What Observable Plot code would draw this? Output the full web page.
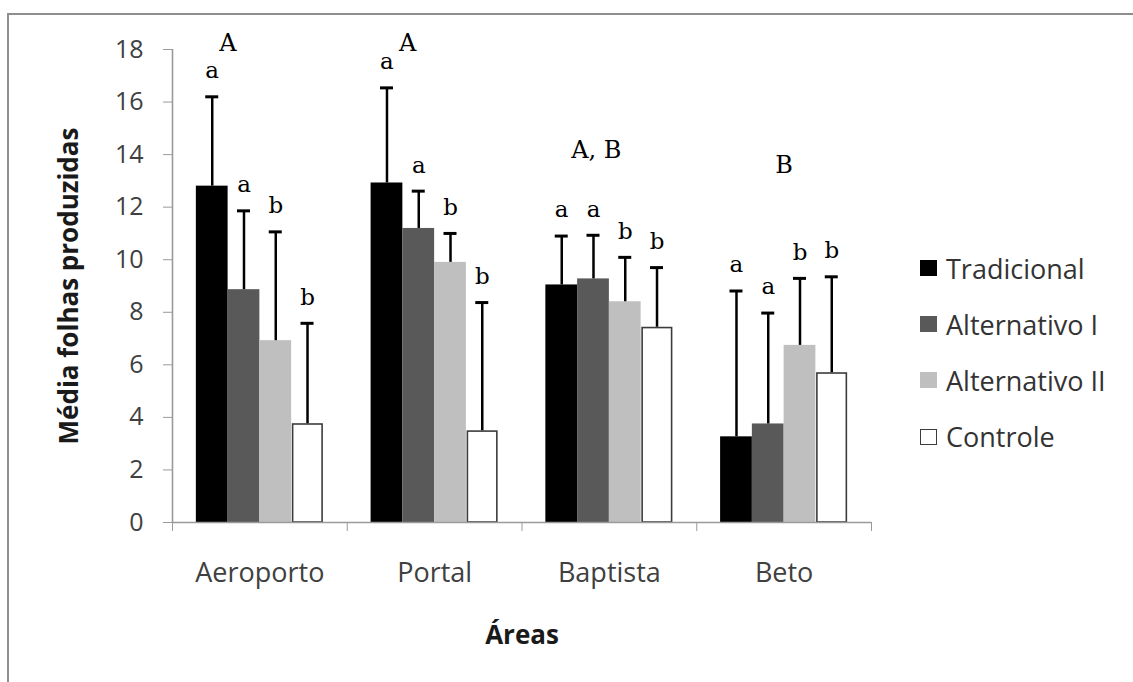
<!DOCTYPE html>
<html><head><meta charset="utf-8">
<script src="https://cdn.jsdelivr.net/npm/d3@7"></script>
<script src="https://cdn.jsdelivr.net/npm/@observablehq/plot@0.6"></script>
<style>
html,body{margin:0;padding:0;background:#fff;overflow:hidden;}
#wrap{position:relative;width:1133px;height:682px;overflow:hidden;font-family:"Open Sans",sans-serif;background:#fff;}
#border{position:absolute;left:7px;top:13px;width:2000px;height:2000px;border-left:2px solid #8e8e8e;border-top:2px solid #8e8e8e;}
#chart{position:absolute;left:0;top:0;}
#legend{position:absolute;left:920px;top:240px;}
.row{display:flex;align-items:center;height:56.2px;font-size:27px;color:#333;white-space:nowrap;}
.sw{width:17px;height:16px;margin-right:9px;box-sizing:border-box;}
</style></head>
<body><div id="wrap"><div id="border"></div><div id="chart"></div><div id="legend"></div></div>
<script>
// ---- data ----
const categories = ["Aeroporto", "Portal", "Baptista", "Beto"];
const series = ["Tradicional", "Alternativo I", "Alternativo II", "Controle"];
const seriesColors = ["#000000", "#595959", "#bfbfbf", "#ffffff"];
const tradicional = [12.80, 12.92, 9.04, 3.26];
const alternativoI = [8.86, 11.19, 9.27, 3.75];
const alternativoII = [6.92, 9.90, 8.40, 6.74];
const controle = [3.76, 3.49, 7.43, 5.70];
const tradicionalSD = [3.40, 3.62, 1.86, 5.55];
const alternativoISD = [3.00, 1.42, 1.66, 4.22];
const alternativoIISD = [4.14, 1.10, 1.69, 2.55];
const controleSD = [3.82, 4.88, 2.27, 3.65];
const seriesLetters = ["a", "a", "b", "b"];
const areaLetters = ["A", "A", "A, B", "B"];
const yTicks = [0, 2, 4, 6, 8, 10, 12, 14, 16, 18];

// ---- layout ----
const W = 1133, H = 682, mL = 172, mR = 262, mT = 49, mB = 160;
const step = (W - mL - mR) / categories.length;
const groupFrac = 0.727;
const barW = groupFrac / series.length;
const groupOff = (1 - groupFrac) / 2;
const capHalf = 6.5 / step;
const letterFont = "'DejaVu Serif', 'Liberation Serif', serif";
// annotation placement for the area letters (height in y units, shift in px)
const areaLetterY = [18.24, 18.24, 14.17, 13.6];
const areaLetterShift = [-32, -27, -13, 0];

const means = [tradicional, alternativoI, alternativoII, controle];
const sds = [tradicionalSD, alternativoISD, alternativoIISD, controleSD];
const rows = [];
categories.forEach((area, i) => {
  series.forEach((s, j) => {
    const x1 = i + groupOff + j * barW;
    rows.push({area, serie: s, j, x1, x2: x1 + barW, xc: x1 + barW / 2,
      mean: means[j][i], top: means[j][i] + sds[j][i], letter: seriesLetters[j]});
  });
});
const areaRows = areaLetters.map((t, i) => ({t, x: i + 0.5 + areaLetterShift[i] / step, y: areaLetterY[i]}));

const chart = Plot.plot({
  width: W, height: H, marginLeft: mL, marginRight: mR, marginTop: mT, marginBottom: mB,
  style: {fontFamily: "'Open Sans', sans-serif", background: "transparent", overflow: "visible"},
  x: {domain: [0, categories.length]},
  y: {domain: [0, 18]},
  color: {domain: series, range: seriesColors},
  marks: [
    Plot.rectY(rows, {filter: d => d.j < 3, x1: "x1", x2: "x2", y1: 0, y2: "mean", fill: "serie"}),
    Plot.rectY(rows, {filter: d => d.j === 3, x1: "x1", x2: "x2", y1: 0, y2: "mean", fill: "serie",
      stroke: "#3c3c3c", strokeWidth: 1.6, insetLeft: 1.5, insetRight: 0.8, insetTop: 0.8}),
    Plot.ruleX(rows, {x: "xc", y1: "mean", y2: "top", stroke: "#000", strokeWidth: 2.5}),
    Plot.ruleY(rows, {y: "top", x1: d => d.xc - capHalf, x2: d => d.xc + capHalf, stroke: "#000", strokeWidth: 3}),
    Plot.text(rows, {x: "xc", y: "top", text: "letter", dy: -26,
      fontFamily: letterFont, fontSize: 23, fill: "#000"}),
    Plot.text(areaRows, {x: "x", y: "y", text: "t",
      fontFamily: letterFont, fontSize: 24, fill: "#000"}),
    Plot.ruleY([0], {stroke: "#9a9a9a", strokeWidth: 1.6}),
    Plot.ruleX([0], {y1: 0, y2: 18, stroke: "#9a9a9a", strokeWidth: 1.6}),
    Plot.axisY(yTicks, {tickSize: 9, tickPadding: 20, fontSize: 25, stroke: "#9a9a9a", fill: "#404040", label: null}),
    Plot.axisX([0, 1, 2, 3, 4], {tickSize: 9, tickFormat: () => "", stroke: "#9a9a9a", label: null}),
    Plot.axisX(categories.map((c, i) => i + 0.5), {tickSize: 0, tickPadding: 40, fontSize: 27,
      tickFormat: d => categories[Math.floor(d)], fill: "#404040", label: null}),
    Plot.text(["Média folhas produzidas"], {frameAnchor: "left", rotate: -90, dx: -103,
      textAnchor: "middle", lineAnchor: "middle",
      fontSize: 26, fontWeight: "bold", fill: "#1a1a1a"}),
    Plot.text(["Áreas"], {frameAnchor: "bottom", dy: 113, textAnchor: "middle", lineAnchor: "middle",
      fontSize: 26, fontWeight: "bold", fill: "#1a1a1a"})
  ]
});
document.getElementById("chart").appendChild(chart);

// legend
const legend = document.getElementById("legend");
series.forEach((s, j) => {
  const row = document.createElement("div");
  row.className = "row";
  const sw = document.createElement("div");
  sw.className = "sw";
  sw.style.background = seriesColors[j];
  if (j === 3) sw.style.border = "1.6px solid #3c3c3c";
  const t = document.createElement("span");
  t.textContent = s;
  row.appendChild(sw); row.appendChild(t);
  legend.appendChild(row);
});
</script>
</body></html>
